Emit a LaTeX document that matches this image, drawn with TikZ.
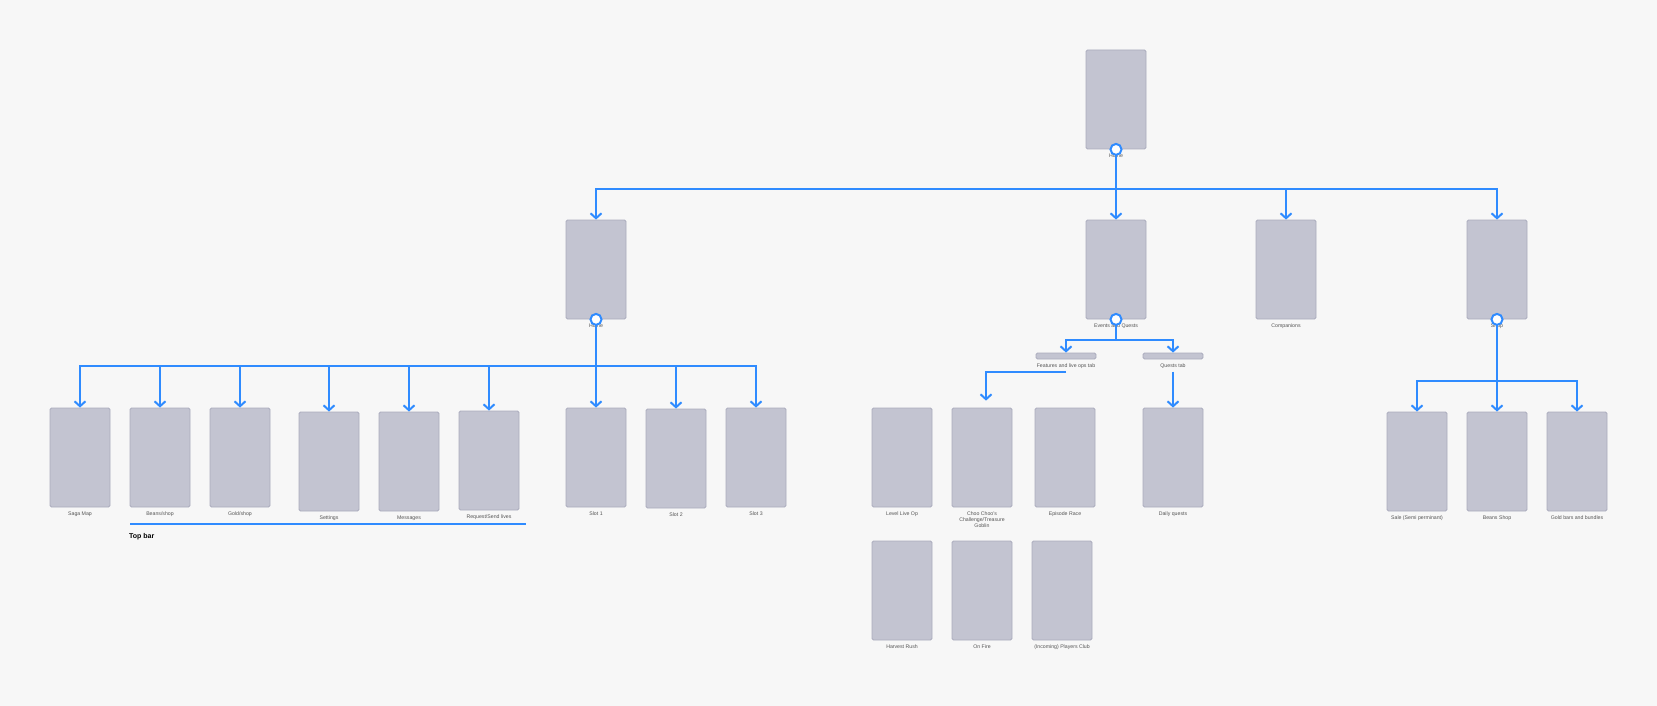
\documentclass[tikz,border=0pt]{standalone}
\usepackage{fontspec}
\setmainfont{Liberation Sans}
\usetikzlibrary{arrows.meta,positioning}
\definecolor{bgcol}{HTML}{F7F7F7}
\definecolor{screenfill}{HTML}{C3C4D1}
\definecolor{screenedge}{HTML}{ABACBD}
\definecolor{linkblue}{HTML}{2F8BFF}
\definecolor{lblgray}{HTML}{555555}
\tikzset{
	screen/.style={draw=screenedge,fill=screenfill,line width=0.8pt,rounded corners=1.5pt,minimum width=60pt,minimum height=99pt,inner sep=0pt},
	tabbar/.style={screen,minimum height=6pt},
	lbl/.style={font=\fontsize{5.2}{6}\selectfont,text=lblgray,inner sep=0pt,align=center},
	link/.style={draw=linkblue,line width=2pt},
	tolink/.style={link,-{Straight Barb[length=5pt,width=11pt]}},
	hub/.style={draw=linkblue,fill=white,line width=2pt}
}
\begin{document}
\begin{tikzpicture}[x=1pt,y=-1pt]
		\fill[bgcol] (0,0) rectangle (1657,706);
		\useasboundingbox (0,0) rectangle (1657,706);
		% screens with their captions
		\foreach \x/\y/\n/\t in {1116/99.5/root/Home,
			596/269.5/home/Home, 1116/269.5/events/{Events and Quests}, 1286/269.5/comp/Companions, 1497/269.5/shop/Shop,
			80/457.5/saga/{Saga Map}, 160/457.5/beans/{Beans/shop}, 240/457.5/gold/{Gold/shop},
			329/461.5/settings/Settings, 409/461.5/messages/Messages, 489/460.5/lives/{Request/Send lives},
			596/457.5/slotone/{Slot 1}, 676/458.5/slottwo/{Slot 2}, 756/457.5/slotthree/{Slot 3},
			902/457.5/liveop/{Level Live Op}, 982/457.5/choo/{Choo Choo's\\Challenge/Treasure\\Goblin},
			1065/457.5/race/{Episode Race}, 1173/457.5/daily/{Daily quests},
			902/590.5/harvest/{Harvest Rush}, 982/590.5/onfire/{On Fire}, 1062/590.5/club/{(Incoming) Players Club},
			1417/461.5/sale/{Sale (Semi perminant)}, 1497/461.5/beansshop/{Beans Shop}, 1577/461.5/goldbars/{Gold bars and bundles}}
		{
			\node[screen] (\n) at (\x,\y) {};
			\node[lbl,below=4pt of \n] (\n-lbl) {\t};
		}
		\node[tabbar] (feat) at (1066,356) {};
		\node[lbl,below=4pt of feat] (feat-lbl) {Features and live ops tab};
		\node[tabbar] (quest) at (1173,356) {};
		\node[lbl,below=4pt of quest] (quest-lbl) {Quests tab};
		% top bar
		\coordinate (topbarL) at (130,524);
		\coordinate (topbarR) at (526,524);
		\draw[linkblue,line width=1.5pt] (topbarL) -- (topbarR);
		\node[font=\fontsize{7}{8}\selectfont\bfseries,anchor=west,inner sep=0pt] (topbar) at (129,537) {Top bar};
		% links
		\coordinate (rootbus) at (1116,189);
		\draw[link] (root.south) -- (rootbus);
		\foreach \n in {home,events,comp,shop}
		{
			\draw[tolink] (rootbus) -| (\n.north);
		}
		\coordinate (homebus) at (596,366);
		\draw[link] (home.south) -- (homebus);
		\foreach \n in {saga,beans,gold,settings,messages,lives,slotone,slottwo,slotthree}
		{
			\draw[tolink] (homebus) -| (\n.north);
		}
		\coordinate (eventbus) at (1116,340);
		\draw[link] (events.south) -- (eventbus);
		\foreach \n in {feat,quest}
		{
			\draw[tolink] (eventbus) -| (\n.north);
		}
		\coordinate (featbus) at ([yshift=-3pt]feat-lbl.south);
		\draw[tolink] (featbus) -| ([xshift=4pt,yshift=7pt]choo.north);
		\coordinate (questbus) at ([yshift=-3pt]quest-lbl.south);
		\draw[tolink] (questbus) -- (daily.north);
		\coordinate (shopbus) at (1497,381);
		\draw[link] (shop.south) -- (shopbus);
		\foreach \n in {sale,beansshop,goldbars}
		{
			\draw[tolink] (shopbus) -| (\n.north);
		}
		% hubs
		\foreach \n in {root,home,events,shop}
		{
			\draw[hub] (\n.south) circle (5.5pt);
		}
\end{tikzpicture}
\end{document}
